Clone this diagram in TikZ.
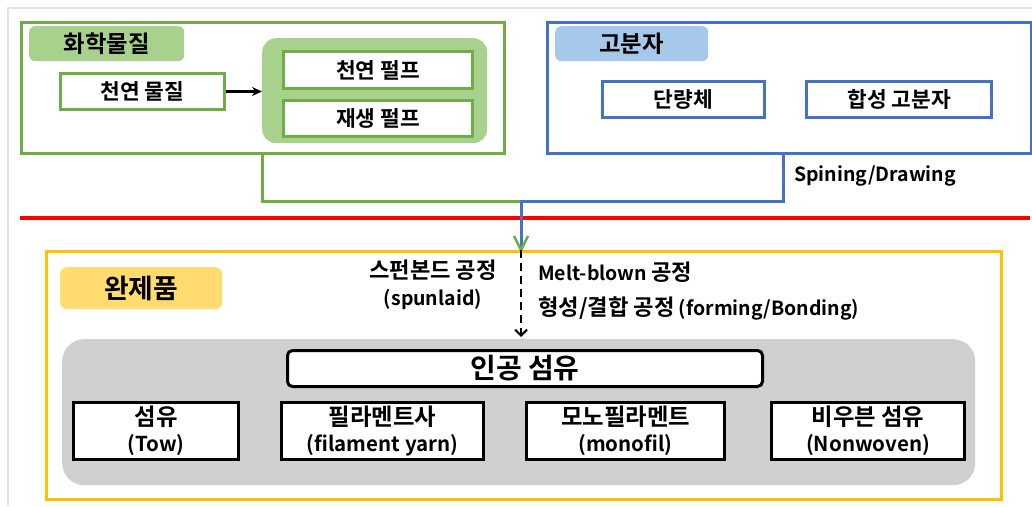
\documentclass[tikz,border=0pt]{standalone}
\usepackage{fontspec}
\setmainfont{Noto Sans CJK KR}[BoldFont={Noto Sans CJK KR Bold}]
\newfontfamily\krfont{Noto Sans CJK KR}[BoldFont={Noto Sans CJK KR Bold}, Scale=1.14]
\newcommand{\K}[1]{{\krfont #1}}
\usetikzlibrary{arrows.meta}
\definecolor{gline}{HTML}{70AD47}
\definecolor{gfill}{HTML}{A9D18E}
\definecolor{bline}{HTML}{4472C4}
\definecolor{bfill}{HTML}{A6C8EA}
\definecolor{yline}{HTML}{FFC000}
\definecolor{yfill}{HTML}{FFDB70}
\definecolor{greyfill}{HTML}{D0D0D0}
\definecolor{frame}{HTML}{E3E3E3}
\tikzset{
  box/.style={draw, line width=3pt, fill=white, inner sep=0pt, font=\bfseries\fontsize{18.8}{22}\selectfont},
  gbox/.style={box, draw=gline},
  bbox/.style={box, draw=bline},
  kbox/.style={box, draw=black, align=center, font=\bfseries\fontsize{20.5}{26}\selectfont},
  lbl/.style={rounded corners=6pt, inner sep=0pt, font=\bfseries\fontsize{20.5}{24}\selectfont},
  txt/.style={inner sep=0pt, font=\bfseries\fontsize{19.5}{27}\selectfont},
  grp/.style={line width=3pt, inner sep=0pt, anchor=north west},
}
\begin{document}
\begin{tikzpicture}[x=1pt,y=-1pt]
\useasboundingbox (0,0) rectangle (1032,506);
% screenshot frame
\draw[frame, line width=1.5pt] (8,506) -- (8,8) -- (1032,8);
% green group
\node[grp, draw=gline, minimum width=483pt, minimum height=131pt] (chem) at (20,21) {};
\node[lbl, fill=gfill, minimum width=155pt, minimum height=35pt, anchor=north west] (chemlbl) at (29,26) {\K{화학물질}};
\node[gbox, minimum width=164pt, minimum height=36pt, anchor=north west] (nat) at (59,72) {\K{천연 물질}};
\node[fill=gfill, rounded corners=14pt, minimum width=225pt, minimum height=105pt, inner sep=0pt, anchor=north west] (pulp) at (262,38) {};
\node[gbox, minimum width=189pt, minimum height=37pt, anchor=north west] (p1) at (282,50) {\K{천연 펄프}};
\node[gbox, minimum width=189pt, minimum height=36pt, anchor=north west] (p2) at (282,99) {\K{재생 펄프}};
\draw[-{Stealth[length=10pt,width=9pt]}, line width=2.5pt] (nat.east) -- (pulp.west |- nat.east);
% blue group
\node[grp, draw=bline, minimum width=484pt, minimum height=131pt] (poly) at (546,21) {};
\node[lbl, fill=bfill, minimum width=153pt, minimum height=35pt, anchor=north west] (polylbl) at (555,26) {\K{고분자}};
\node[bbox, minimum width=162pt, minimum height=36pt, anchor=north west] (mono) at (601,80) {\K{단량체}};
\node[bbox, minimum width=185pt, minimum height=36pt, anchor=north west] (syn) at (805,80) {\K{합성 고분자}};
% red line
\draw[red, line width=4pt] (20,218) -- (1030,218);
% yellow group
\node[grp, draw=yline, minimum width=955pt, minimum height=248pt] (prod) at (45,250) {};
\node[lbl, fill=yfill, rounded corners=7pt, minimum width=162pt, minimum height=42pt, font=\bfseries\fontsize{23.5}{26}\selectfont, anchor=north west] (prodlbl) at (60,267) {\K{완제품}};
\node[fill=greyfill, rounded corners=22pt, minimum width=913pt, minimum height=146pt, inner sep=0pt, anchor=north west] (fiber) at (62,339) {};
\node[draw=black, line width=3pt, fill=white, rounded corners=5pt, minimum width=475pt, minimum height=36pt, inner sep=0pt, font=\bfseries\fontsize{24.5}{27}\selectfont, anchor=north west] (art) at (286,349) {\K{인공 섬유}};
\node[kbox, minimum width=165pt, minimum height=57pt, anchor=north west] (tow) at (72,401) {\K{섬유}\\(Tow)};
\node[kbox, minimum width=202pt, minimum height=57pt, anchor=north west] (fil) at (280,401) {\K{필라멘트사}\\(filament yarn)};
\node[kbox, minimum width=198pt, minimum height=57pt, anchor=north west] (monof) at (525,401) {\K{모노필라멘트}\\(monofil)};
\node[kbox, minimum width=193pt, minimum height=57pt, anchor=north west] (nonw) at (770,401) {\K{비우븐 섬유}\\(Nonwoven)};
% connectors
\coordinate (join) at (521,201);
\coordinate (entry) at (521,250);
\coordinate (tip) at (521,337);
\draw[gline, line width=3pt] (262,152) |- (join);
\draw[bline, line width=3pt] (783,152) |- (join) -- (entry);
\draw[gline, line width=2.5pt] (514,236) -- (entry) -- (528,236);
\draw[black, dash pattern=on 8pt off 5pt, line width=2pt, -{Straight Barb[length=6pt,width=12pt]}] (entry) -- (tip);
% labels
\node[txt, anchor=west] (spin) at (794,176) {Spining/Drawing};
\node[txt, align=center] (spun) at (433,285) {\K{스펀본드 공정}\\(spunlaid)};
\node[txt, anchor=west] (melt) at (538,272) {Melt-blown \K{공정}};
\node[txt, anchor=west] (form) at (538,308) {\K{형성/결합 공정} (forming/Bonding)};
\end{tikzpicture}
\end{document}
